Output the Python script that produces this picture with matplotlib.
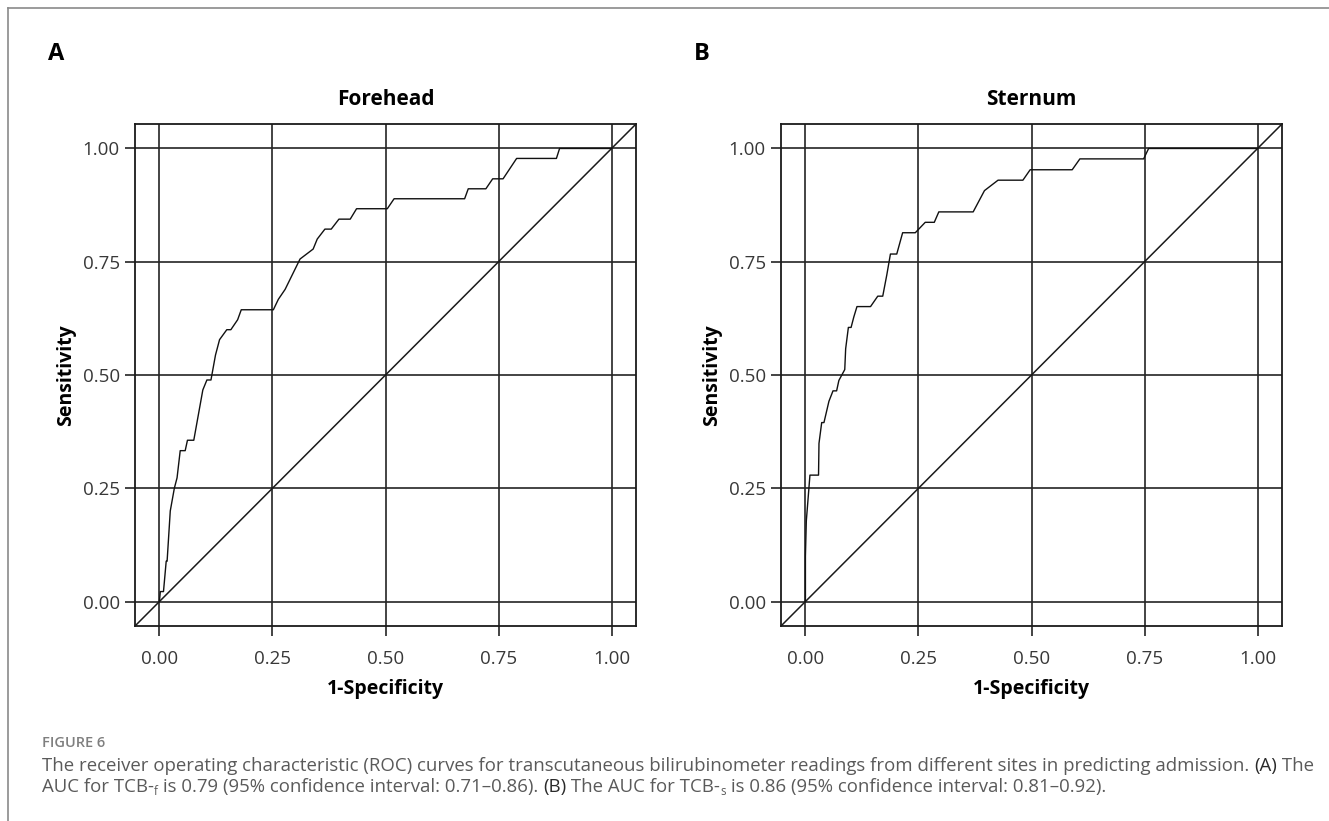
import matplotlib
matplotlib.use("Agg")
import matplotlib.pyplot as plt
from matplotlib.lines import Line2D

plt.rcParams['font.family'] = ['Open Sans', 'DejaVu Sans']

# ROC vertices (1-specificity, sensitivity)
fore_fpr = [0.0, 0.002, 0.009, 0.015, 0.017, 0.024, 0.033, 0.039, 0.046, 0.057, 0.062, 0.076,
            0.096, 0.105, 0.114, 0.124, 0.133, 0.149, 0.158, 0.173, 0.181, 0.252, 0.263, 0.278,
            0.311, 0.340, 0.349, 0.366, 0.380, 0.397, 0.422, 0.436, 0.504, 0.519, 0.675, 0.683,
            0.722, 0.737, 0.760, 0.790, 0.878, 0.885, 1.0]
fore_tpr = [0.0, 0.022, 0.022, 0.089, 0.089, 0.200, 0.250, 0.273, 0.333, 0.333, 0.356, 0.356,
            0.467, 0.489, 0.489, 0.544, 0.578, 0.600, 0.600, 0.622, 0.644, 0.644, 0.667, 0.689,
            0.756, 0.778, 0.800, 0.822, 0.822, 0.844, 0.844, 0.867, 0.867, 0.889, 0.889, 0.911,
            0.911, 0.933, 0.933, 0.978, 0.978, 1.0, 1.0]

ster_fpr = [0.0, 0.0, 0.002, 0.010, 0.029, 0.030, 0.036, 0.041, 0.052, 0.061, 0.069, 0.074,
            0.087, 0.089, 0.095, 0.101, 0.107, 0.114, 0.144, 0.160, 0.171, 0.180, 0.188, 0.202,
            0.215, 0.243, 0.265, 0.285, 0.295, 0.371, 0.396, 0.426, 0.481, 0.497, 0.590, 0.607,
            0.748, 0.759, 1.0]
ster_tpr = [0.0, 0.100, 0.178, 0.279, 0.279, 0.349, 0.395, 0.395, 0.442, 0.465, 0.465, 0.488,
            0.512, 0.558, 0.605, 0.605, 0.628, 0.651, 0.651, 0.674, 0.674, 0.721, 0.767, 0.767,
            0.814, 0.814, 0.837, 0.837, 0.860, 0.860, 0.907, 0.930, 0.930, 0.953, 0.953, 0.977,
            0.977, 1.0, 1.0]

ticks = [0.0, 0.25, 0.5, 0.75, 1.0]
tick_labels = ["0.00", "0.25", "0.50", "0.75", "1.00"]
panels = [("A", "Forehead", fore_fpr, fore_tpr), ("B", "Sternum", ster_fpr, ster_tpr)]

W, H = 1329, 821
fig = plt.figure(figsize=(W / 100, H / 100), dpi=100)

grid_c = "#242424"
ax_left = [135, 781]
for (letter, title, fx, fy), xl in zip(panels, ax_left):
    ax = fig.add_axes([xl / W, 1 - 626 / H, 501 / W, 502 / H])
    ax.set_xlim(-0.054, 1.054)
    ax.set_ylim(-0.054, 1.054)
    ax.set_xticks(ticks, tick_labels)
    ax.set_yticks(ticks, tick_labels)
    ax.grid(True, color=grid_c, linewidth=1.2)
    ax.set_axisbelow(True)
    ax.tick_params(length=7, width=1.2, color=grid_c, labelsize=13.5,
                   labelcolor="#383838")
    ax.tick_params(axis="x", pad=10.5)
    ax.tick_params(axis="y", pad=4)
    for sp in ax.spines.values():
        sp.set_linewidth(1.3)
        sp.set_color("#1a1a1a")
    ax.plot([-0.054, 1.054], [-0.054, 1.054], color="#1a1a1a", linewidth=1.1)
    ax.plot(fx, fy, color="#111111", linewidth=1.0)
    ax.set_title(title, fontsize=15, fontweight="bold", pad=14)
    ax.set_xlabel("1-Specificity", fontsize=14, fontweight="bold", labelpad=8)
    ax.set_ylabel("Sensitivity", fontsize=14, fontweight="bold", labelpad=5)
    fig.text((xl - 87) / W, 1 - 54 / H, letter, fontsize=17, fontweight="bold",
             ha="left", va="center")

# page frame
fig.add_artist(Line2D([8 / W, 1], [1 - 8 / H, 1 - 8 / H], color="#8a8a8a", linewidth=1.2))
fig.add_artist(Line2D([8 / W, 8 / W], [0, 1 - 8 / H], color="#8a8a8a", linewidth=1.2))

# caption
fig.text(42 / W, 1 - 747 / H, "FIGURE 6", fontsize=10.5, color="#7f7f7f", va="baseline",
         fontweight="semibold")

renderer = fig.canvas.get_renderer()
cap_c = "#5a5a5a"
dark_c = "#2a2a2a"


def draw_runs(x_px, base_px, runs, size):
    for s, c, sub in runs:
        fs = size * 0.62 if sub else size
        yy = base_px + (3 if sub else 0)
        t = fig.text(x_px / W, 1 - yy / H, s, fontsize=fs, color=c, va="baseline")
        bb = t.get_window_extent(renderer)
        x_px += bb.width


cap_size = 13.4
line1 = [("The receiver operating characteristic (ROC) curves for transcutaneous bilirubinometer "
          "readings from different sites in predicting admission.\u00a0", cap_c, False),
         ("(A)", dark_c, False), ("\u00a0The", cap_c, False)]
line2 = [("AUC for TCB-", cap_c, False), ("f", cap_c, True),
         ("\u00a0is 0.79 (95% confidence interval: 0.71\u20130.86).\u00a0", cap_c, False),
         ("(B)", dark_c, False), ("\u00a0The AUC for TCB-", cap_c, False), ("s", cap_c, True),
         ("\u00a0is 0.86 (95% confidence interval: 0.81\u20130.92).", cap_c, False)]
draw_runs(42, 771, line1, cap_size)
draw_runs(42, 792, line2, cap_size)

fig.savefig("out.png", dpi=100)
